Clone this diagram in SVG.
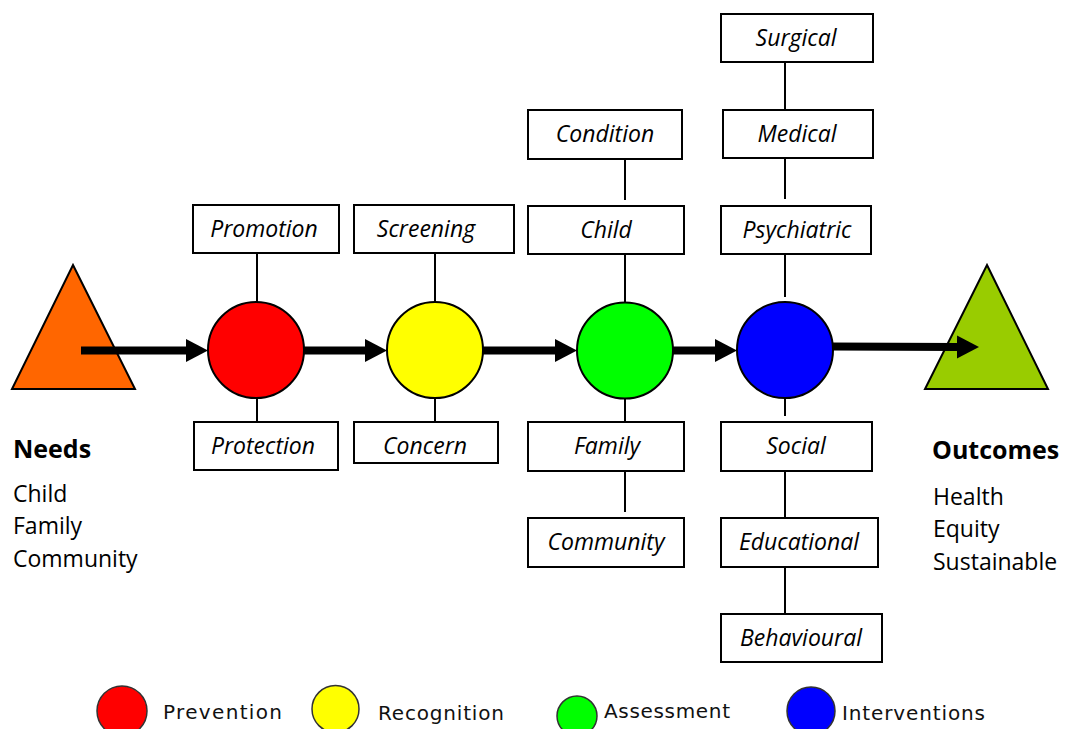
<svg xmlns="http://www.w3.org/2000/svg" width="1068" height="729" viewBox="0 0 1068 729">
  <style>
    .box { fill: #ffffff; stroke: #000000; stroke-width: 2; }
    .lbl { font-family: "Open Sans", "Noto Sans", sans-serif; font-style: italic; font-size: 23px; fill: #000000; text-anchor: middle; }
    .head { font-family: "Open Sans", "Noto Sans", sans-serif; font-weight: bold; font-size: 25px; fill: #000000; }
    .sub { font-family: "Open Sans", "Noto Sans", sans-serif; font-size: 23px; fill: #000000; }
    .stage { stroke: #000000; stroke-width: 2; }
    .tri { stroke: #000000; stroke-width: 2; stroke-linejoin: miter; }
    .link { stroke: #000000; stroke-width: 2; fill: none; }
    .flow { stroke: #000000; stroke-width: 8; fill: none; marker-end: url(#bigArrow); }
    .key { stroke: #333333; stroke-width: 1.5; filter: url(#soft); }
    .keytxt { font-family: "DejaVu Sans", Verdana, sans-serif; font-size: 20px; fill: #111111; }
  </style>
  <defs>
    <marker id="bigArrow" markerUnits="userSpaceOnUse" markerWidth="24" markerHeight="24" refX="2" refY="11.5" orient="auto">
      <path d="M0,0 L22,11.5 L0,23 Z" fill="#000000"/>
    </marker>
    <filter id="soft" x="-20%" y="-20%" width="140%" height="140%">
      <feGaussianBlur stdDeviation="0.6"/>
    </filter>
  </defs>

  <rect width="1068" height="729" fill="#ffffff"/>

  <!-- end points -->
  <g id="needs">
    <polygon class="tri" points="73,265 135,389 12,389" fill="#FF6600"/>
    <text class="head" x="13" y="458">Needs</text>
    <text class="sub" x="13" y="502">Child</text>
    <text class="sub" x="13" y="534">Family</text>
    <text class="sub" x="13" y="567">Community</text>
  </g>
  <g id="outcomes">
    <polygon class="tri" points="987,265 1048,389 925,389" fill="#99CC00"/>
    <text class="head" x="932" y="459">Outcomes</text>
    <text class="sub" x="933" y="505">Health</text>
    <text class="sub" x="933" y="537">Equity</text>
    <text class="sub" x="933" y="570">Sustainable</text>
  </g>

  <!-- connectors: thin ties between boxes and stages, thick flow arrows -->
  <g id="connectors">
    <line class="link" x1="257" y1="253" x2="257" y2="302"/>
    <line class="link" x1="257" y1="398" x2="257" y2="422"/>
    <line class="link" x1="435" y1="253" x2="435" y2="302"/>
    <line class="link" x1="435" y1="398" x2="435" y2="422"/>
    <line class="link" x1="625" y1="159" x2="625" y2="200"/>
    <line class="link" x1="625" y1="254" x2="625" y2="302"/>
    <line class="link" x1="625" y1="398" x2="625" y2="422"/>
    <line class="link" x1="625" y1="471" x2="625" y2="512"/>
    <line class="link" x1="785" y1="62" x2="785" y2="110"/>
    <line class="link" x1="785" y1="158" x2="785" y2="199"/>
    <line class="link" x1="785" y1="254" x2="785" y2="297"/>
    <line class="link" x1="785" y1="398" x2="785" y2="416"/>
    <line class="link" x1="785" y1="471" x2="785" y2="518"/>
    <line class="link" x1="785" y1="567" x2="785" y2="614"/>

    <line class="flow" x1="81" y1="350.5" x2="188" y2="350.5"/>
    <line class="flow" x1="300" y1="350.5" x2="367" y2="350.5"/>
    <line class="flow" x1="480" y1="350.5" x2="557" y2="350.5"/>
    <line class="flow" x1="670" y1="350.5" x2="717" y2="350.5"/>
    <line class="flow" x1="830" y1="346.5" x2="959" y2="347"/>
  </g>

  <!-- stages -->
  <g id="prevention">
    <circle class="stage" cx="256" cy="350" r="48" fill="#FF0000"/>
  </g>
  <g id="recognition">
    <circle class="stage" cx="435" cy="350" r="48" fill="#FFFF00"/>
  </g>
  <g id="assessment">
    <circle class="stage" cx="625" cy="350.5" r="48" fill="#00FF00"/>
  </g>
  <g id="interventions">
    <circle class="stage" cx="785" cy="350" r="48" fill="#0000FF"/>
  </g>

  <!-- prevention boxes -->
  <g id="box-promotion">
    <rect class="box" x="193" y="205" width="146" height="48"/>
    <text class="lbl" x="264" y="237">Promotion</text>
  </g>
  <g id="box-protection">
    <rect class="box" x="194" y="422" width="144" height="48"/>
    <text class="lbl" x="263" y="454">Protection</text>
  </g>

  <!-- recognition boxes -->
  <g id="box-screening">
    <rect class="box" x="354" y="205" width="160" height="48"/>
    <text class="lbl" x="426" y="237">Screening</text>
  </g>
  <g id="box-concern">
    <rect class="box" x="354" y="422" width="144" height="41"/>
    <text class="lbl" x="425" y="454">Concern</text>
  </g>

  <!-- assessment boxes -->
  <g id="box-condition">
    <rect class="box" x="528" y="110" width="154" height="49"/>
    <text class="lbl" x="605" y="142">Condition</text>
  </g>
  <g id="box-child">
    <rect class="box" x="528" y="206" width="156" height="48"/>
    <text class="lbl" x="606" y="238">Child</text>
  </g>
  <g id="box-family">
    <rect class="box" x="528" y="422" width="156" height="49"/>
    <text class="lbl" x="607" y="454">Family</text>
  </g>
  <g id="box-community">
    <rect class="box" x="528" y="518" width="156" height="49"/>
    <text class="lbl" x="606" y="550">Community</text>
  </g>

  <!-- intervention boxes -->
  <g id="box-surgical">
    <rect class="box" x="721" y="14" width="152" height="48"/>
    <text class="lbl" x="796" y="46">Surgical</text>
  </g>
  <g id="box-medical">
    <rect class="box" x="723" y="110" width="150" height="48"/>
    <text class="lbl" x="797" y="142">Medical</text>
  </g>
  <g id="box-psychiatric">
    <rect class="box" x="721" y="206" width="150" height="48"/>
    <text class="lbl" x="797" y="238">Psychiatric</text>
  </g>
  <g id="box-social">
    <rect class="box" x="721" y="422" width="151" height="49"/>
    <text class="lbl" x="796" y="454">Social</text>
  </g>
  <g id="box-educational">
    <rect class="box" x="721" y="518" width="157" height="49"/>
    <text class="lbl" x="799" y="550">Educational</text>
  </g>
  <g id="box-behavioural">
    <rect class="box" x="721" y="614" width="161" height="48"/>
    <text class="lbl" x="801" y="646">Behavioural</text>
  </g>

  <!-- key -->
  <g id="legend">
    <circle class="key" cx="122" cy="711" r="25" fill="#FF0000"/>
    <text class="keytxt" x="163" y="719" textLength="119" lengthAdjust="spacing">Prevention</text>
    <circle class="key" cx="335.5" cy="709" r="23.5" fill="#FFFF00"/>
    <text class="keytxt" x="378" y="720" textLength="126" lengthAdjust="spacing">Recognition</text>
    <circle class="key" cx="577" cy="716" r="20" fill="#00FF00"/>
    <text class="keytxt" x="604" y="718" textLength="126" lengthAdjust="spacing">Assessment</text>
    <circle class="key" cx="811" cy="711" r="24" fill="#0000FF"/>
    <text class="keytxt" x="842" y="720" textLength="143" lengthAdjust="spacing">Interventions</text>
  </g>
</svg>
